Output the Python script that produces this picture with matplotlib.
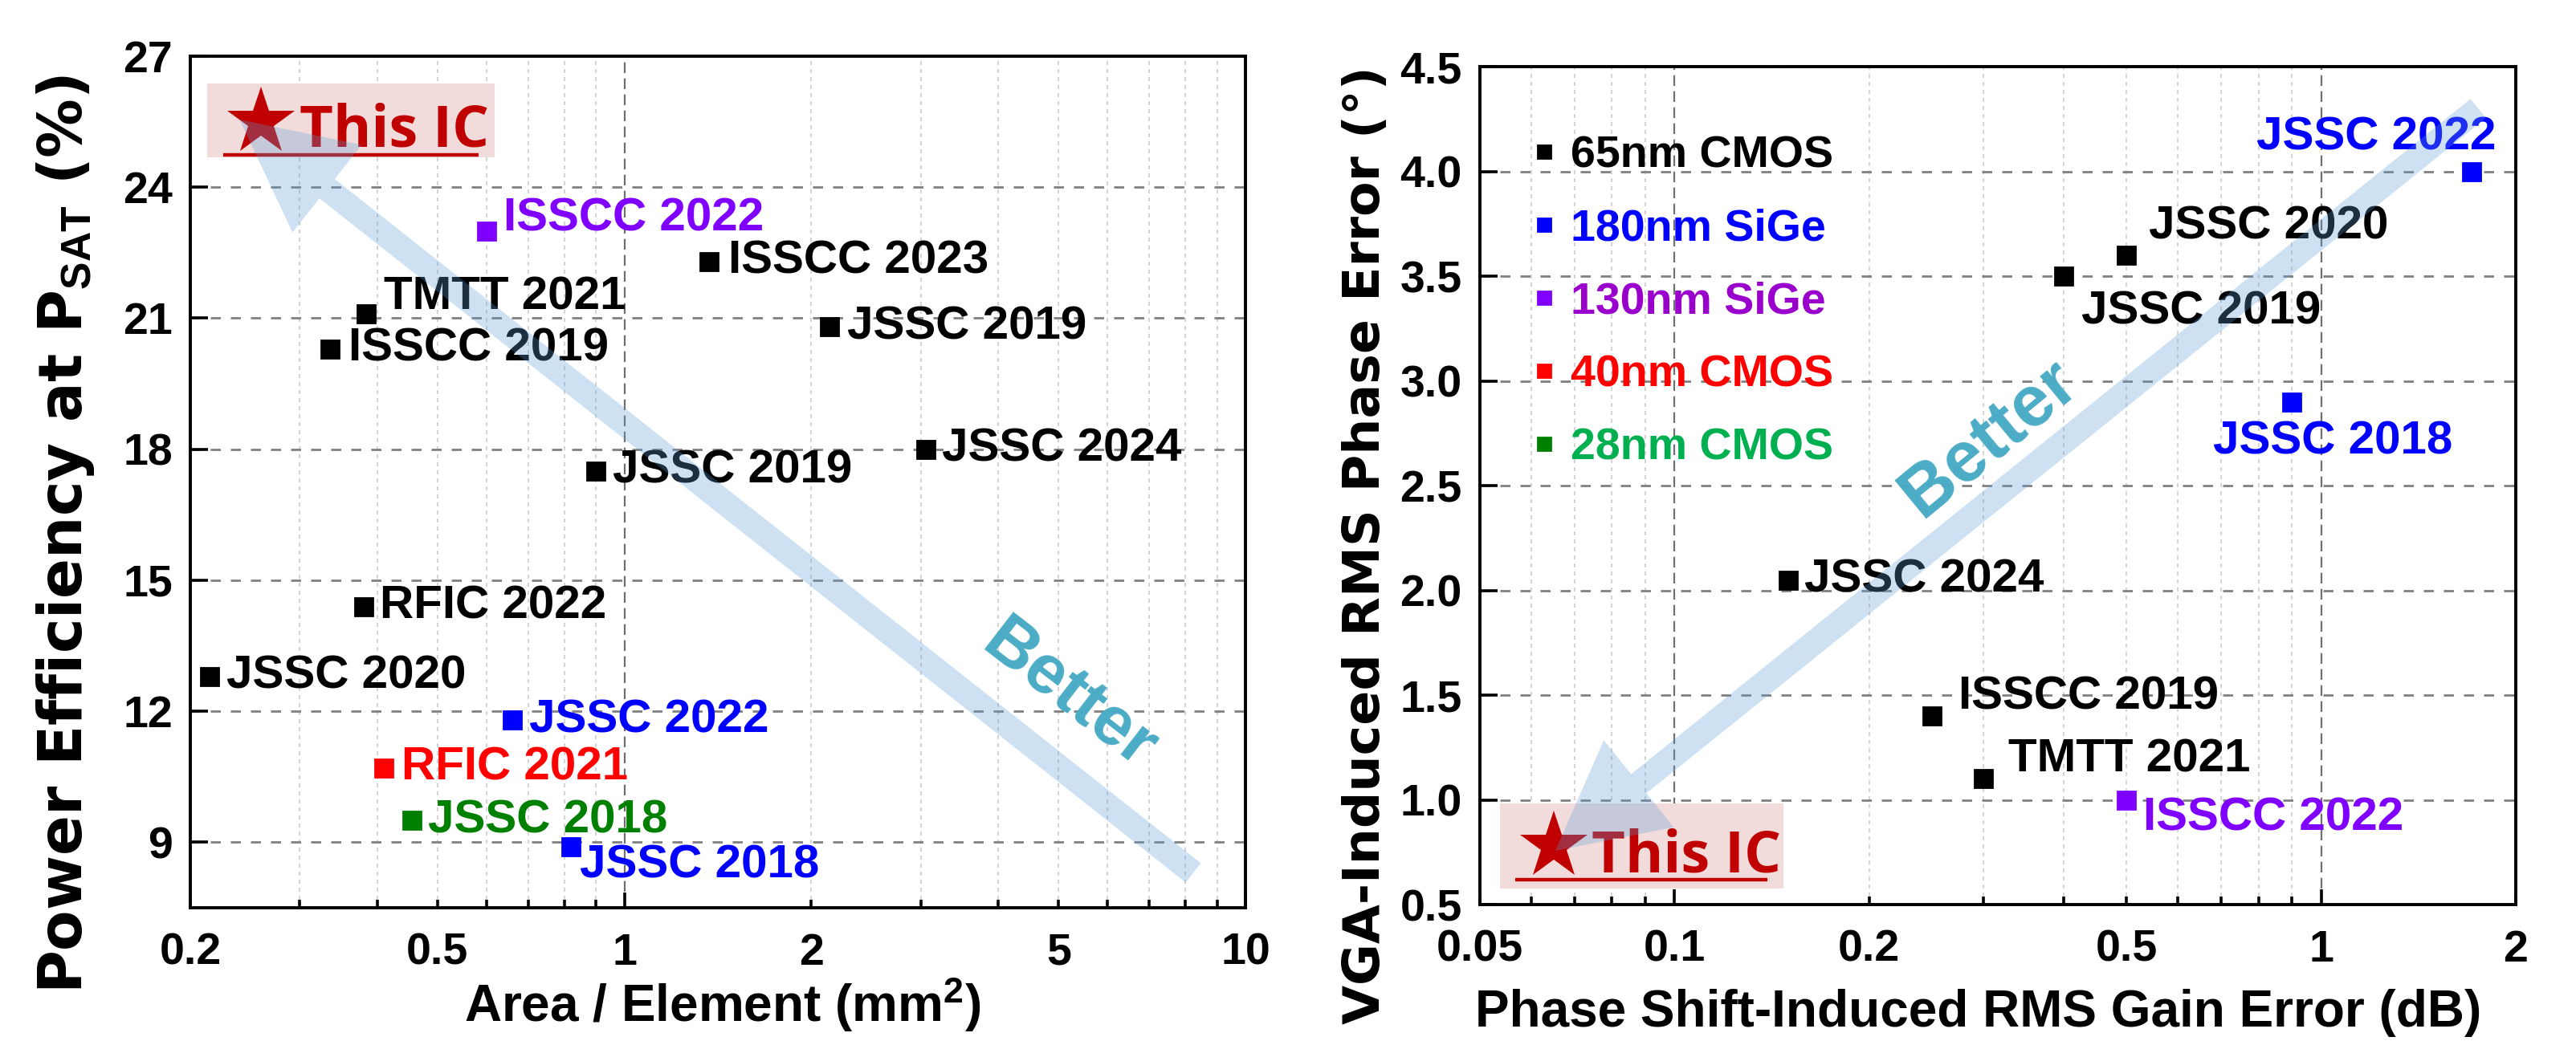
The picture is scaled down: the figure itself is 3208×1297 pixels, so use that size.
import matplotlib
matplotlib.use("Agg")
import matplotlib.pyplot as plt
from matplotlib.patches import FancyArrowPatch, Rectangle
from matplotlib.lines import Line2D
from matplotlib.ticker import LogLocator, FuncFormatter

plt.rcParams['font.family'] = ['Liberation Sans', 'DejaVu Sans']
plt.rcParams['font.weight'] = 'bold'
plt.rcParams['mathtext.fontset'] = 'custom'
plt.rcParams['mathtext.rm'] = 'Liberation Sans:bold'
plt.rcParams['mathtext.bf'] = 'Liberation Sans:bold'
plt.rcParams['mathtext.it'] = 'Liberation Sans:bold:italic'
plt.rcParams['mathtext.default'] = 'rm'

# ---- data: left panel (area vs efficiency) ----
left_names = ["ISSCC 2022", "ISSCC 2023", "TMTT 2021", "ISSCC 2019", "JSSC 2019",
              "JSSC 2024", "JSSC 2019", "RFIC 2022", "JSSC 2020", "JSSC 2022",
              "RFIC 2021", "JSSC 2018", "JSSC 2018"]
left_area = [0.60, 1.37, 0.384, 0.336, 2.14, 3.06, 0.90, 0.38, 0.215, 0.66, 0.41, 0.455, 0.82]
left_eff = [23.0, 22.3, 21.1, 20.3, 20.8, 18.0, 17.5, 14.4, 12.8, 11.8, 10.7, 9.5, 8.9]
left_tech = ["130nm SiGe", "65nm CMOS", "65nm CMOS", "65nm CMOS", "65nm CMOS",
             "65nm CMOS", "65nm CMOS", "65nm CMOS", "65nm CMOS", "180nm SiGe",
             "40nm CMOS", "28nm CMOS", "180nm SiGe"]
this_area, this_eff = 0.26, 25.5

# ---- data: right panel (gain error vs phase error) ----
right_names = ["JSSC 2022", "JSSC 2020", "JSSC 2019", "JSSC 2018", "JSSC 2024",
               "ISSCC 2019", "TMTT 2021", "ISSCC 2022"]
right_gain = [1.71, 0.50, 0.40, 0.90, 0.15, 0.25, 0.30, 0.50]
right_phase = [4.0, 3.6, 3.5, 2.9, 2.05, 1.4, 1.1, 1.0]
right_tech = ["180nm SiGe", "65nm CMOS", "65nm CMOS", "180nm SiGe", "65nm CMOS",
              "65nm CMOS", "65nm CMOS", "130nm SiGe"]
this_gain, this_phase = 0.065, 0.78

techs = ["65nm CMOS", "180nm SiGe", "130nm SiGe", "40nm CMOS", "28nm CMOS"]

# colours
point_col = {"65nm CMOS": "black", "180nm SiGe": "#0000ff", "130nm SiGe": "#8000ff",
             "40nm CMOS": "#ff0000", "28nm CMOS": "#008000"}
legend_col = {"65nm CMOS": "black", "180nm SiGe": "#0000ff", "130nm SiGe": "#9900cc",
              "40nm CMOS": "#ff0000", "28nm CMOS": "#00b050"}
star_red = "#c00000"
arrow_col = "#5f9ed7"
better_col = "#4bacc6"

# label offsets in points (dx, dy, ha)
left_off = [(7.5, 5.5, 'left'), (8.5, 0, 'left'), (8, 7.5, 'left'), (8, 0, 'left'),
            (8, 0, 'left'), (7, 0, 'left'), (7.5, 0, 'left'), (7.5, 0, 'left'),
            (7.5, 0, 'left'), (7.5, 0, 'left'), (8, 0, 'left'), (7, 0, 'left'),
            (4, -8.6, 'left')]
right_off = [(11, 15, 'right'), (10, 12.6, 'left'), (8, -16, 'left'), (-35, -18, 'left'),
             (7, 0, 'left'), (12, 8.6, 'left'), (11.5, 8.6, 'left'), (7.5, -8.3, 'left')]

fig = plt.figure(figsize=(16.04, 6.485), dpi=200)
ax1 = fig.add_axes([0.0739, 0.128, 0.4096, 0.818])
ax2 = fig.add_axes([0.5745, 0.131, 0.4021, 0.805])


def style_axes(ax, xlim, ylim, yticks, ylabels, xlabels):
    ax.set_xscale('log')
    ax.set_xlim(*xlim)
    ax.set_ylim(*ylim)
    ax.set_yticks(yticks)
    ax.set_yticklabels(ylabels)
    ax.xaxis.set_major_locator(LogLocator(base=10))
    ax.xaxis.set_minor_locator(LogLocator(base=10, subs=[2, 3, 4, 5, 6, 7, 8, 9]))
    fmt = FuncFormatter(lambda v, p: f"{v:g}" if any(abs(v - t) < 1e-9 for t in xlabels) else "")
    ax.xaxis.set_major_formatter(fmt)
    ax.xaxis.set_minor_formatter(fmt)
    ax.tick_params(axis='both', which='both', direction='in', labelsize=20,
                   top=False, right=False, width=1.3)
    ax.tick_params(axis='y', which='major', length=8, pad=8)
    ax.tick_params(axis='x', which='major', length=7, pad=11)
    ax.tick_params(axis='x', which='minor', length=3.5, pad=11)
    for t in ax.get_xticklabels(which='both') + ax.get_yticklabels():
        t.set_fontweight('bold')
    for s in ax.spines.values():
        s.set_linewidth(1.4)
    ax.grid(True, which='major', axis='y', color='#808080', lw=1.0, ls=(0, (4.5, 4.5)))
    ax.grid(True, which='major', axis='x', color='#707070', lw=0.8, ls=(0, (6, 3)))
    ax.grid(True, which='minor', axis='x', color='#cccccc', lw=0.6, ls=(0, (3, 3)))


style_axes(ax1, (0.2, 10), (7.5, 27), [9, 12, 15, 18, 21, 24, 27],
           ["9", "12", "15", "18", "21", "24", "27"], [0.2, 0.5, 1, 2, 5, 10])
style_axes(ax2, (0.05, 2), (0.5, 4.5), [0.5, 1.0, 1.5, 2.0, 2.5, 3.0, 3.5, 4.0, 4.5],
           ["0.5", "1.0", "1.5", "2.0", "2.5", "3.0", "3.5", "4.0", "4.5"],
           [0.05, 0.1, 0.2, 0.5, 1, 2])

# ---- scatter points + labels ----
for ax, xs, ys, names, tech, offs in [
        (ax1, left_area, left_eff, left_names, left_tech, left_off),
        (ax2, right_gain, right_phase, right_names, right_tech, right_off)]:
    for x, y, n, t, (dx, dy, ha) in zip(xs, ys, names, tech, offs):
        c = point_col[t]
        ax.plot(x, y, 's', color=c, ms=8, zorder=4)
        ax.annotate(n, (x, y), xytext=(dx, dy), textcoords='offset points',
                    ha=ha, va='center', fontsize=21, fontweight='bold', color=c, zorder=4)

# legend (right panel)
handles = [Line2D([], [], ls='none', marker='s', ms=6, color=point_col[t]) for t in techs]
leg = ax2.legend(handles, techs, loc='upper left', bbox_to_anchor=(0.036, 0.939),
                 borderaxespad=0, frameon=False, fontsize=20, handlelength=0.4,
                 handletextpad=0.4, labelspacing=0.70,
                 labelcolor=[legend_col[t] for t in techs])
for t in leg.get_texts():
    t.set_fontweight('bold')

# ---- "This IC" boxes ----
for ax, sx, sy, box, tx, ty, ul in [
        (ax1, this_area, this_eff, (0.016, 0.881, 0.272, 0.087), 0.1035, 0.8944, (0.0312, 0.2732, 0.884)),
        (ax2, this_gain, this_phase, (0.0194, 0.0192, 0.2736, 0.1015), 0.1078, 0.0393, (0.0341, 0.2775, 0.0297))]:
    ax.add_patch(Rectangle(box[:2], box[2], box[3], transform=ax.transAxes,
                           facecolor='#f2dcdb', edgecolor='none', zorder=2))
    ax.plot(sx, sy, '*', color=star_red, ms=32, mew=0, zorder=3)
    ax.text(tx, ty, "This IC", transform=ax.transAxes, fontsize=26, fontweight='bold',
            family='Open Sans', color=star_red, ha='left', va='baseline', zorder=3)
    ax.plot([ul[0], ul[1]], [ul[2], ul[2]], transform=ax.transAxes, color=star_red,
            lw=1.6, solid_capstyle='butt', zorder=3)

# ---- "Better" arrows ----
ax1.add_patch(FancyArrowPatch((8.24, 8.3), (0.24, 25.55), arrowstyle='simple,head_length=50,head_width=50,tail_width=11',
                              mutation_scale=1, shrinkA=0, shrinkB=0, color=arrow_col, alpha=0.3, lw=0, zorder=6))
ax2.add_patch(FancyArrowPatch((1.75, 4.30), (0.0654, 0.757), arrowstyle='simple,head_length=48,head_width=50,tail_width=11',
                              mutation_scale=1, shrinkA=0, shrinkB=0, color=arrow_col, alpha=0.3, lw=0, zorder=6))
ax1.text(0.832, 0.249, "Better", transform=ax1.transAxes, rotation=-37.7, fontsize=31,
         fontweight='bold', color=better_col, ha='center', va='center', rotation_mode='anchor')
ax2.text(0.492, 0.556, "Better", transform=ax2.transAxes, rotation=39.5, fontsize=32,
         fontweight='bold', color=better_col, ha='center', va='center', rotation_mode='anchor')

# ---- axis labels ----
ax1.set_xlabel("Area / Element (mm$^2$)", fontsize=23, fontweight='bold')
ax2.set_xlabel("Phase Shift-Induced RMS Gain Error (dB)", fontsize=23, fontweight='bold')
ax1.set_ylabel("Power Efficiency at P$_{SAT}$ (%)", fontsize=26.5, fontweight='bold', family='DejaVu Sans')
ax2.set_ylabel("VGA-Induced RMS Phase Error (°)", fontsize=22.8, fontweight='bold', family='DejaVu Sans')
ax1.xaxis.set_label_coords(0.5046, -0.079)
ax2.xaxis.set_label_coords(0.481, -0.1006)
ax1.yaxis.set_label_coords(-0.089, 0.439)
ax2.yaxis.set_label_coords(-0.087, 0.429)

fig.savefig("out.png", dpi=200)
